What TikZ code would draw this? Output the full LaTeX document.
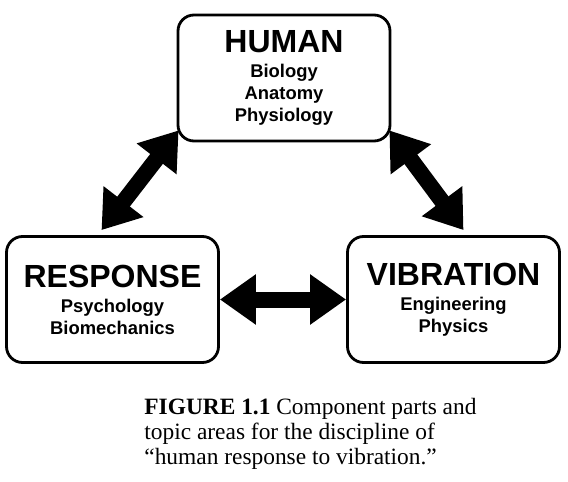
\documentclass[tikz,border=0pt]{standalone}
\usepackage{fontspec}
\setmainfont{Liberation Serif}
\setsansfont{Liberation Sans}
\usetikzlibrary{arrows.meta,calc,positioning}

\newcommand{\topichead}[1]{{\fontsize{16}{18}\selectfont #1}}

\begin{document}
\begin{tikzpicture}[x=0.5pt, y=-0.5pt,
    topic/.style={draw, line width=1.4pt, rounded corners=8pt,
        minimum width=106pt, minimum height=63pt, align=center,
        font=\sffamily\bfseries\fontsize{9.2}{11}\selectfont},
    link/.style={line width=8pt,
        {Triangle[length=18pt,width=24pt]}-{Triangle[length=18pt,width=24pt]}},
    caption/.style={inner sep=0pt, align=left,
        font=\fontsize{11.7}{12.5}\selectfont}]
    \useasboundingbox (0,0) rectangle (568,482);

    % The three topic boxes
    \node[topic] (human) at (284,78)
        {\topichead{HUMAN}\\[1.5pt] Biology\\ Anatomy\\ Physiology};
    \node[topic] (response) at (112.5,299.5)
        {\topichead{RESPONSE}\\[1.5pt] Psychology\\ Biomechanics};
    \node[topic] (vibration) at (453.5,299.5)
        {\topichead{VIBRATION}\\[1.5pt] Engineering\\ Physics};

    % Links between them
    \draw[link] ($(human.south west)+(2,-12)$) -- ($(response.north)+(-11,-5)$);
    \draw[link] ($(human.south east)+(-2,-12)$) -- ($(vibration.north)+(10,-5)$);
    \draw[link] (response) -- (vibration);

    % Caption
    \node[caption, anchor=north west] (cap) at (144,398)
        {\textbf{FIGURE 1.1} Component parts and\\
         topic areas for the discipline of\\
         “human response to vibration.”};
\end{tikzpicture}
\end{document}
